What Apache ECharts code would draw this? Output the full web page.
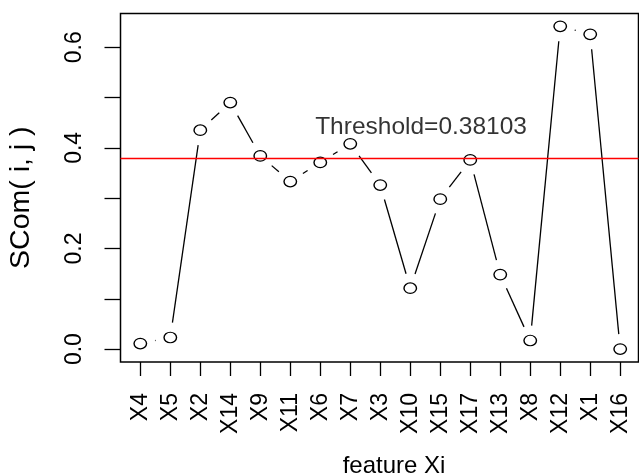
<!DOCTYPE html>
<html>
<head>
<meta charset="utf-8">
<script src="https://cdn.jsdelivr.net/npm/echarts@6/dist/echarts.min.js"></script>
<style>
  html, body { margin: 0; padding: 0; background: #fff; }
  #chart { width: 639px; height: 474px; }
</style>
</head>
<body>
<div id="chart"></div>
<script>
// Features in ranked order and their SCom(i, j) scores
const categories = ['X4', 'X5', 'X2', 'X14', 'X9', 'X11', 'X6', 'X7', 'X3', 'X10', 'X15', 'X17', 'X13', 'X8', 'X12', 'X1', 'X16'];
const scom = [0.011, 0.023, 0.435, 0.490, 0.384, 0.333, 0.371, 0.408, 0.326, 0.121, 0.298, 0.376, 0.148, 0.017, 0.6415, 0.6256, 0.000];
const threshold = 0.38103;

// Axis ticks and labelled values
const yTicks = [0, 0.1, 0.2, 0.3, 0.4, 0.5, 0.6];
const yLabels = [0, 0.2, 0.4, 0.6];
const xPositions = categories.map((_, i) => i + 1);

const font = '"Liberation Sans", Arial, Helvetica, sans-serif';
const GAP = 15; // blank space left around each point on the connecting lines

const chart = echarts.init(document.getElementById('chart'), null, { renderer: 'canvas' });

chart.setOption({
  animation: false,
  backgroundColor: '#fff',
  grid: {
    left: 120.5, top: 13.4, width: 518, height: 348.6,
    containLabel: false, outerBoundsMode: 'none',
    show: true, borderColor: '#000', borderWidth: 1.5, backgroundColor: 'transparent'
  },
  xAxis: {
    type: 'value',
    min: 0.34, max: 17.61,
    axisLine: { show: false, onZero: false },
    splitLine: { show: false },
    axisTick: { show: true, customValues: xPositions, length: 14, lineStyle: { color: '#000', width: 1.3 } },
    axisLabel: {
      customValues: xPositions, rotate: 90, margin: 31,
      color: '#000', fontSize: 23, fontFamily: font,
      formatter: v => categories[Math.round(v) - 1]
    },
    name: 'feature Xi', nameLocation: 'middle', nameGap: 92,
    nameTextStyle: { color: '#000', fontSize: 24, fontFamily: font, padding: [0, 0, 0, 29] }
  },
  yAxis: {
    type: 'value',
    min: -0.0257, max: 0.6672,
    axisLine: { show: false },
    splitLine: { show: false },
    axisTick: { show: true, customValues: yTicks, length: 16, lineStyle: { color: '#000', width: 1.3 } },
    axisLabel: {
      customValues: yLabels, rotate: 90, margin: 34,
      color: '#000', fontSize: 23, fontFamily: font,
      formatter: v => v.toFixed(1)
    },
    name: 'SCom( i, j )', nameLocation: 'middle', nameGap: 85, nameRotate: 90,
    nameTextStyle: { color: '#000', fontSize: 28.5, fontFamily: font, padding: [0, 20, 0, 0] }
  },
  series: [
    {
      // connecting segments, trimmed around each point
      type: 'custom',
      coordinateSystem: 'cartesian2d',
      encode: { x: 0, y: 1 },
      data: scom.slice(0, -1).map((v, i) => [i + 1, v, scom[i + 1]]),
      renderItem: (params, api) => {
        const a = api.coord([api.value(0), api.value(1)]);
        const b = api.coord([api.value(0) + 1, api.value(2)]);
        const dx = b[0] - a[0], dy = b[1] - a[1];
        const len = Math.hypot(dx, dy);
        if (len <= 2 * GAP) return null;
        const ux = dx / len, uy = dy / len;
        return {
          type: 'line',
          shape: { x1: a[0] + ux * GAP, y1: a[1] + uy * GAP, x2: b[0] - ux * GAP, y2: b[1] - uy * GAP },
          style: { stroke: '#000', lineWidth: 1.3 }
        };
      },
      silent: true
    },
    {
      type: 'scatter',
      data: scom.map((v, i) => [i + 1, v]),
      symbol: 'circle',
      symbolSize: [12.5, 10.5],
      itemStyle: { color: 'rgba(0,0,0,0)', borderColor: '#000', borderWidth: 1.3, opacity: 1 },
      silent: true,
      markLine: {
        silent: true,
        symbol: ['none', 'none'],
        label: { show: false },
        lineStyle: { color: '#ff0000', width: 1.3, type: 'solid' },
        data: [{ yAxis: threshold }]
      }
    },
    {
      // threshold caption
      type: 'scatter',
      data: [[10.36, threshold + 0.06]],
      symbol: 'circle',
      symbolSize: 1,
      itemStyle: { color: 'rgba(0,0,0,0)' },
      silent: true,
      label: {
        show: true, position: 'inside',
        formatter: 'Threshold=' + threshold,
        color: '#000', fontSize: 24.5, fontFamily: font
      }
    }
  ]
});
</script>
</body>
</html>
